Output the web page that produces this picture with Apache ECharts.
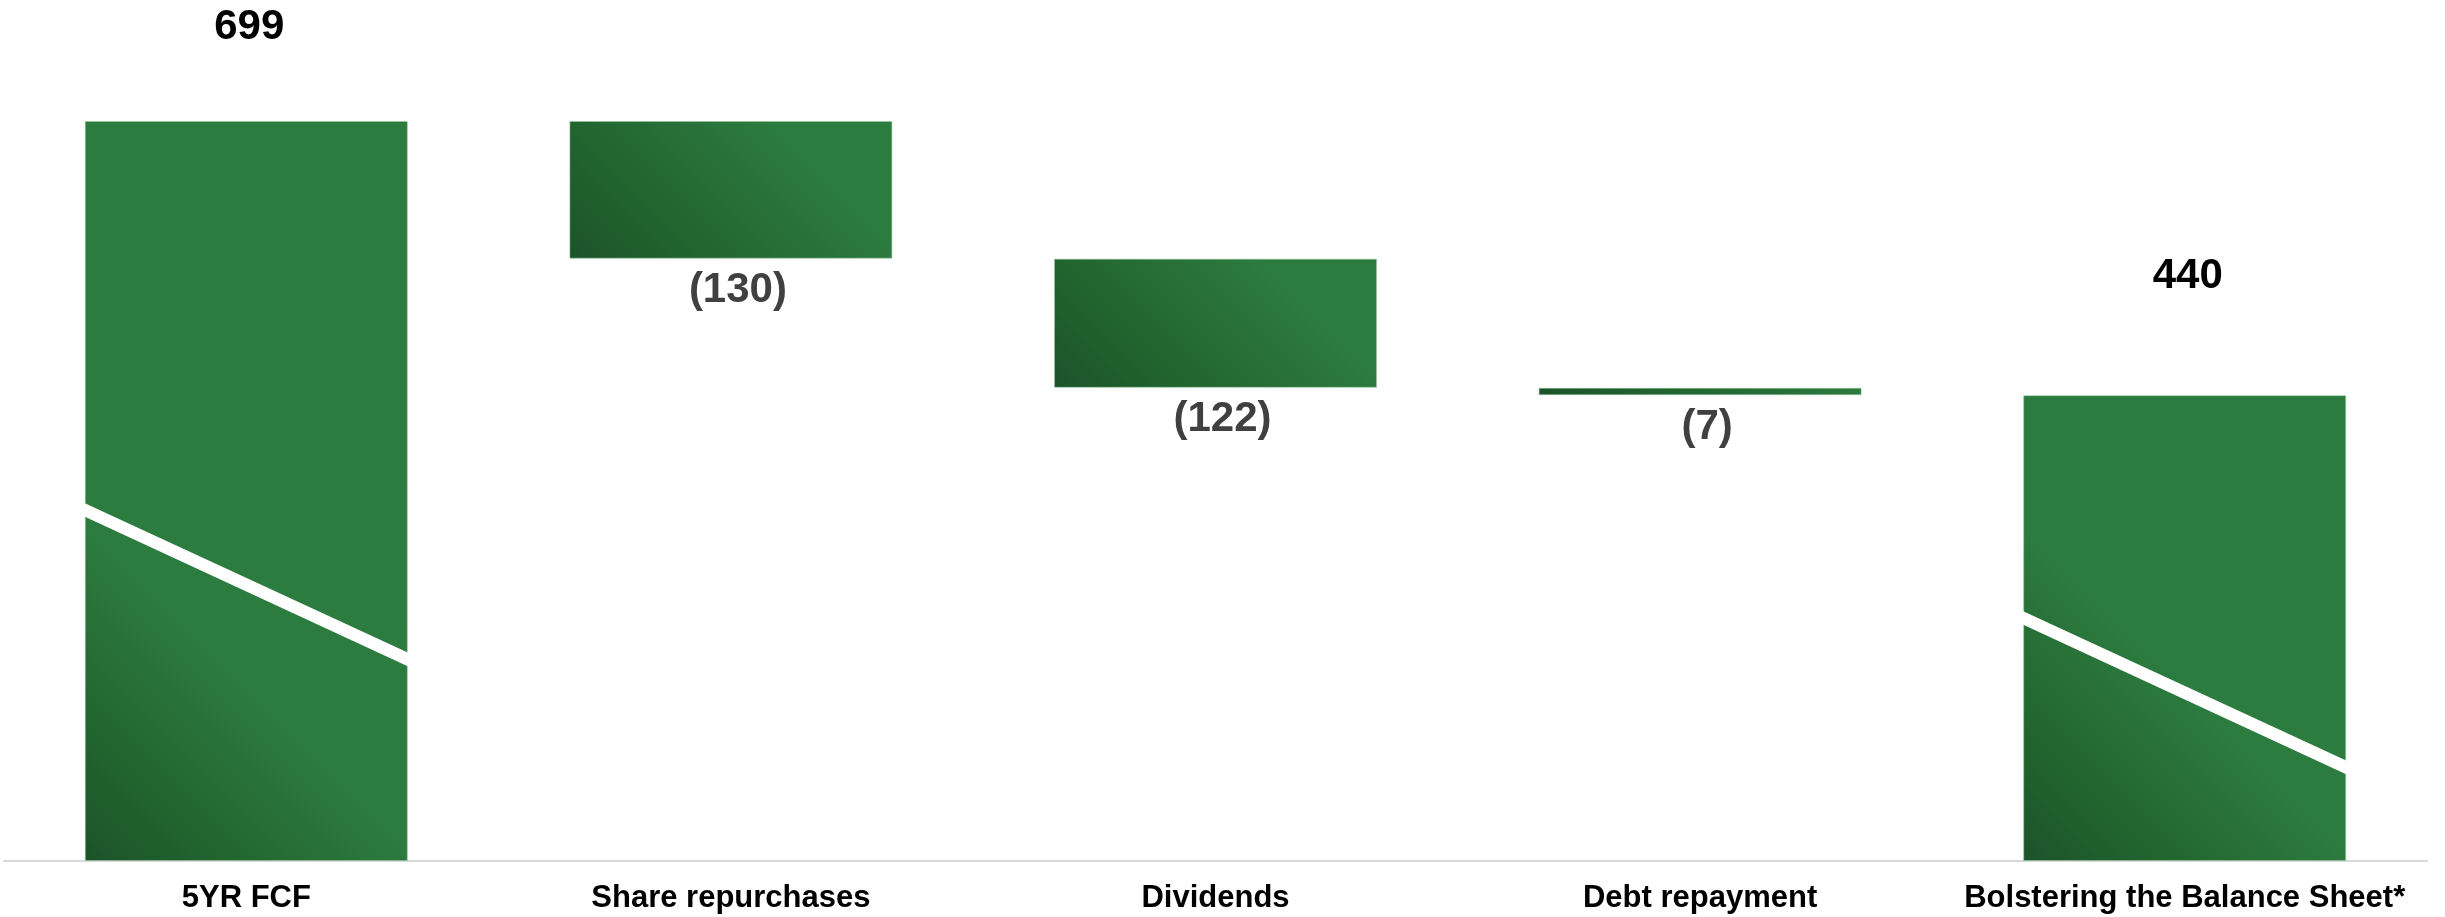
<!DOCTYPE html>
<html>
<head>
<meta charset="utf-8">
<script src="https://cdn.jsdelivr.net/npm/echarts@6/dist/echarts.min.js"></script>
<style>
  html, body { margin: 0; padding: 0; background: #ffffff; }
  #chart { width: 2445px; height: 917px; }
</style>
</head>
<body>
<div id="chart"></div>
<script>
// ---- Data ----
const categories = ['5YR FCF', 'Share repurchases', 'Dividends', 'Debt repayment', 'Bolstering the Balance Sheet*'];
const values = [699, -130, -122, -7, 440];
const isTotal = [true, false, false, false, true];
// decorative white slash across the total bars: [level at left edge, level at right edge] in data units
const slashLevels = [[332, 190], null, null, null, [230, 88]];

// ---- Derived waterfall pieces ----
const baseData = [];
const barData = [];
let running = 0;
values.forEach(function (v, i) {
  if (isTotal[i]) {
    baseData.push(0);
    barData.push(v);
    running = v;
  } else {
    const end = running + v;
    baseData.push(Math.min(running, end));
    barData.push(Math.abs(v));
    running = end;
  }
});

const BAR_W = 323;
const FONT = 'Liberation Sans, Arial, Helvetica, sans-serif';
const DARK = '#1c532a';
const MAIN = '#2c7b3f';
const GRID = { left: 4, right: 18, top: 121, bottom: 56 };
const Y_MAX = 699;
const GRAD_LEN = 280; // px length of the 45deg shading from the bottom-left corner

const pxPerUnit = (917 - GRID.top - GRID.bottom) / Y_MAX;

function shading(h) {
  const hp = Math.max(h * pxPerUnit, 1);
  const d = GRAD_LEN / Math.SQRT2;
  return new echarts.graphic.LinearGradient(0, 1, d / BAR_W, 1 - d / hp, [
    { offset: 0, color: DARK },
    { offset: 0.35, color: '#22652f' },
    { offset: 0.85, color: MAIN },
    { offset: 1, color: MAIN }
  ]);
}

const topDist = [73, null, null, null, 98];

const barItems = barData.map(function (h, i) {
  const total = isTotal[i];
  return {
    value: h,
    itemStyle: { color: shading(h) },
    label: total ? {
      position: 'top',
      distance: topDist[i],
      offset: [3, 0],
      color: '#000000',
      fontSize: 42,
      lineHeight: 42
    } : {
      position: 'bottom',
      distance: 11,
      offset: [7, 0],
      color: '#404040',
      fontSize: 42,
      lineHeight: 42
    }
  };
});

const slashData = [];
slashLevels.forEach(function (s, i) {
  if (s) slashData.push([i, s[0], s[1]]);
});

const chart = echarts.init(document.getElementById('chart'), null, { renderer: 'canvas' });
chart.setOption({
  animation: false,
  backgroundColor: '#ffffff',
  grid: { left: GRID.left, right: GRID.right, top: GRID.top, bottom: GRID.bottom, containLabel: false, outerBoundsMode: 'none' },
  xAxis: {
    type: 'category',
    data: categories,
    axisLine: { show: true, lineStyle: { color: '#d9d9d9', width: 2 } },
    axisTick: { show: false },
    axisLabel: {
      interval: 0,
      margin: 22,
      color: '#000000',
      fontFamily: FONT,
      fontWeight: 'bold',
      fontSize: 31,
      lineHeight: 31
    }
  },
  yAxis: {
    type: 'value',
    min: 0,
    max: Y_MAX,
    show: false,
    splitLine: { show: false }
  },
  series: [
    {
      type: 'bar',
      stack: 'wf',
      barWidth: BAR_W,
      data: baseData,
      itemStyle: { color: 'transparent' },
      silent: true
    },
    {
      type: 'bar',
      stack: 'wf',
      barWidth: BAR_W,
      data: barItems,
      itemStyle: {
        borderColor: 'rgba(150,200,160,0.55)',
        borderWidth: 1
      },
      label: {
        show: true,
        fontFamily: FONT,
        fontWeight: 'bold',
        formatter: function (p) {
          const v = values[p.dataIndex];
          return v < 0 ? '(' + Math.abs(v) + ')' : String(v);
        }
      }
    },
    {
      type: 'custom',
      z: 10,
      data: slashData,
      renderItem: function (params, api) {
        const idx = api.value(0);
        const pL = api.coord([idx, api.value(1)]);
        const pR = api.coord([idx, api.value(2)]);
        const x0 = pL[0] - BAR_W / 2 - 1;
        const x1 = pL[0] + BAR_W / 2 + 1;
        const half = 6.8;
        return {
          type: 'polygon',
          shape: {
            points: [
              [x0, pL[1] - half],
              [x1, pR[1] - half],
              [x1, pR[1] + half],
              [x0, pL[1] + half]
            ]
          },
          style: { fill: '#ffffff' }
        };
      }
    }
  ]
});
</script>
</body>
</html>
